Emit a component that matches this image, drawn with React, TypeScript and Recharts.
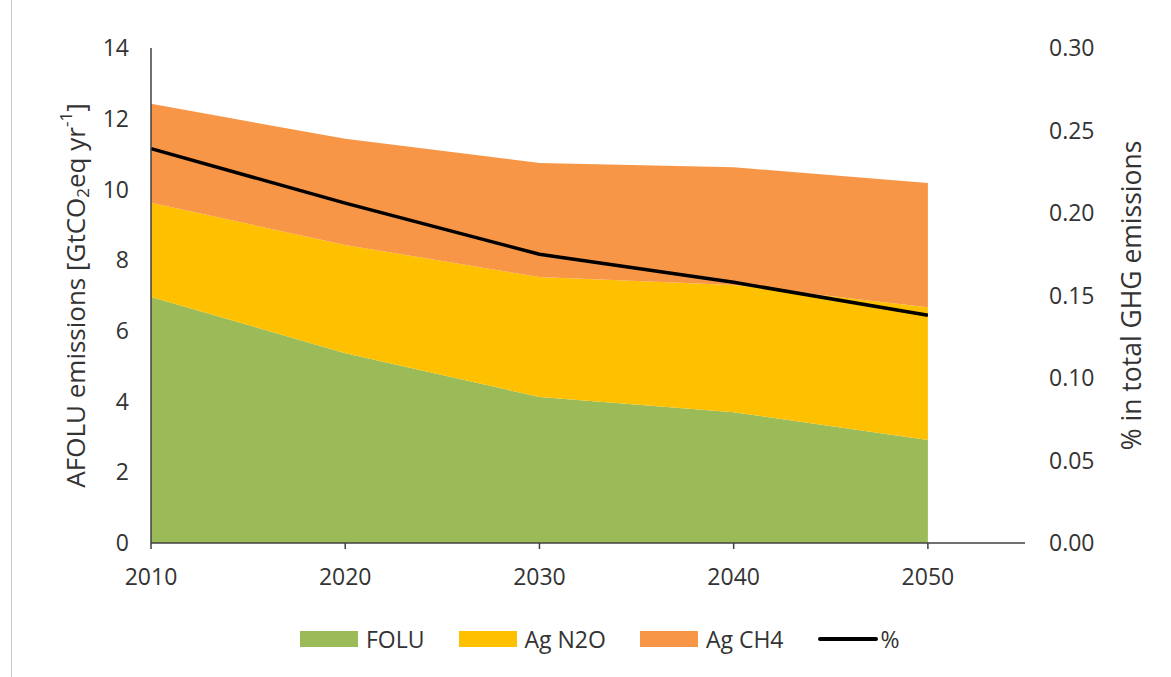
import { ComposedChart, Area, Line, XAxis, YAxis, Legend } from 'recharts'

// values
const years = [2010, 2020, 2030, 2040, 2050]
const folu = [6.96, 5.37, 4.13, 3.7, 2.91]
const agN2O = [2.66, 3.06, 3.39, 3.6, 3.76]
const agCH4 = [2.8, 3.0, 3.23, 3.33, 3.51]
const sharePct = [0.239, 0.206, 0.175, 0.158, 0.138]

const xTicks = [2010, 2020, 2030, 2040, 2050]
const leftTicks = [0, 2, 4, 6, 8, 10, 12, 14]
const rightTicks = [0, 0.05, 0.1, 0.15, 0.2, 0.25, 0.3]

const data = years.map((year, i) => ({
  year,
  folu: folu[i],
  n2o: agN2O[i],
  ch4: agCH4[i],
  pct: sharePct[i],
}))

const FONT = '"Open Sans", "Liberation Sans", sans-serif'
const TEXT = '#333333'
const GREEN = '#9BBB59'
const YELLOW = '#FFC000'
const ORANGE = '#F79646'

// 縦軸タイトル（左）
function LeftTitle({ viewBox }: any) {
  const cx = 75
  const cy = viewBox && viewBox.height ? viewBox.y + viewBox.height / 2 : 294
  return (
    <text
      x={cx}
      y={cy}
      transform={`rotate(-90 ${cx} ${cy})`}
      textAnchor="middle"
      dominantBaseline="central"
      fontSize={26}
      fill={TEXT}
      fontFamily={FONT}
    >
      AFOLU emissions [GtCO
      <tspan fontSize={17} dy={7}>2</tspan>
      <tspan dy={-7}>eq yr</tspan>
      <tspan fontSize={17} dy={-10}>-1</tspan>
      <tspan dy={10}>]</tspan>
    </text>
  )
}

// 縦軸タイトル（右）
function RightTitle({ viewBox }: any) {
  const cx = 1131
  const cy = viewBox && viewBox.height ? viewBox.y + viewBox.height / 2 : 294
  return (
    <text
      x={cx}
      y={cy}
      transform={`rotate(-90 ${cx} ${cy})`}
      textAnchor="middle"
      dominantBaseline="central"
      fontSize={26.5}
      fill={TEXT}
      fontFamily={FONT}
    >
      % in total GHG emissions
    </text>
  )
}

const legendItems = [
  { label: 'FOLU', color: GREEN, kind: 'box' },
  { label: 'Ag N2O', color: YELLOW, kind: 'box' },
  { label: 'Ag CH4', color: ORANGE, kind: 'box' },
  { label: '%', color: '#000000', kind: 'line' },
]

function ChartLegend() {
  return (
    <div style={{ display: 'flex', alignItems: 'center', paddingLeft: 300, fontFamily: FONT, fontSize: 23, color: TEXT }}>
      {legendItems.map((it) => (
        <div key={it.label} style={{ display: 'flex', alignItems: 'center', marginRight: 34 }}>
          {it.kind === 'box' ? (
            <span style={{ display: 'inline-block', width: 58, height: 16, background: it.color }} />
          ) : (
            <span style={{ display: 'inline-block', width: 60, height: 4, background: it.color, borderRadius: 2 }} />
          )}
          <span style={{ marginLeft: it.kind === 'box' ? 8 : 3 }}>{it.label}</span>
        </div>
      ))}
    </div>
  )
}

export default function App() {
  return (
    <div
      style={{
        position: 'absolute',
        left: 0,
        top: 0,
        width: 1171,
        height: 677,
        background: '#fff',
      }}
    >
      <div style={{ position: 'absolute', left: 11, top: 0, width: 1, height: 677, background: '#c8c8c8' }} />
      <ComposedChart
        width={1171}
        height={677}
        data={data}
        margin={{ top: 48, right: 46, bottom: 64, left: 91 }}
      >
        <XAxis
          dataKey="year"
          type="number"
          domain={[2010, 2055]}
          ticks={xTicks}
          height={40}
          tick={{ fill: TEXT, fontSize: 23, fontFamily: FONT }}
          axisLine={{ stroke: '#404040', strokeWidth: 1.5 }}
          tickLine={{ stroke: '#404040', strokeWidth: 1.5 }}
          tickSize={6}
          tickMargin={20}
        />
        <YAxis
          yAxisId="left"
          domain={[0, 14]}
          ticks={leftTicks}
          width={60}
          tick={{ fill: TEXT, fontSize: 23, fontFamily: FONT }}
          axisLine={{ stroke: '#404040', strokeWidth: 1.5 }}
          tickLine={false}
          tickSize={0}
          tickMargin={22}
          label={<LeftTitle />}
        />
        <YAxis
          yAxisId="right"
          orientation="right"
          domain={[0, 0.3]}
          ticks={rightTicks}
          width={100}
          tick={{ fill: TEXT, fontSize: 23, fontFamily: FONT }}
          tickFormatter={(v: number) => v.toFixed(2)}
          axisLine={false}
          tickLine={false}
          tickSize={0}
          tickMargin={24}
          label={<RightTitle />}
        />
        <Legend
          content={<ChartLegend />}
          wrapperStyle={{ position: 'absolute', left: 0, top: 623, width: 1171, height: 30 }}
        />
        <Area
          yAxisId="left"
          type="linear"
          dataKey="folu"
          name="FOLU"
          stackId="afolu"
          stroke="none"
          fill={GREEN}
          fillOpacity={1}
          isAnimationActive={false}
        />
        <Area
          yAxisId="left"
          type="linear"
          dataKey="n2o"
          name="Ag N2O"
          stackId="afolu"
          stroke="none"
          fill={YELLOW}
          fillOpacity={1}
          isAnimationActive={false}
        />
        <Area
          yAxisId="left"
          type="linear"
          dataKey="ch4"
          name="Ag CH4"
          stackId="afolu"
          stroke="none"
          fill={ORANGE}
          fillOpacity={1}
          isAnimationActive={false}
        />
        <Line
          yAxisId="right"
          type="linear"
          dataKey="pct"
          name="%"
          stroke="#000000"
          strokeWidth={3.5}
          dot={false}
          isAnimationActive={false}
        />
      </ComposedChart>
    </div>
  )
}
